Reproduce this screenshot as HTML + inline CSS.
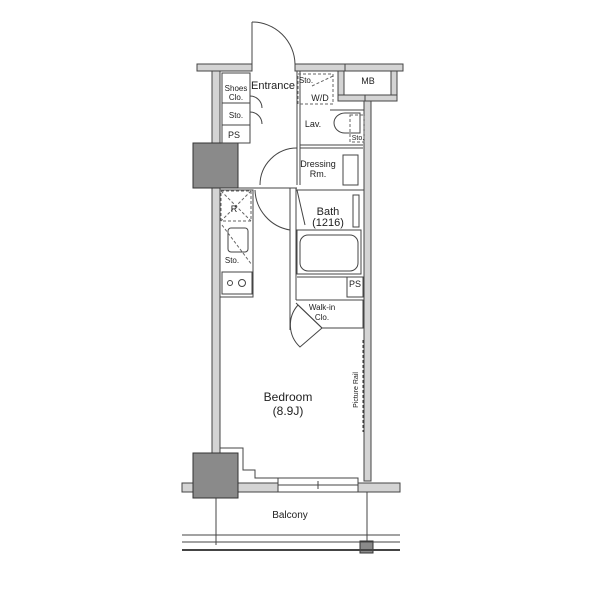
<!DOCTYPE html>
<html><head><style>body{margin:0;background:#fff}svg{display:block}text{font-family:"Liberation Sans",sans-serif;fill:#222}</style></head><body>
<svg width="600" height="600" viewBox="0 0 600 600" xmlns="http://www.w3.org/2000/svg">
<g stroke="#444" stroke-width="1" fill="#d4d4d4">
<rect x="197" y="64" width="55" height="7"/>
<rect x="295" y="64" width="50" height="7"/>
<rect x="345" y="64" width="58" height="7"/>
<rect x="338" y="71" width="6" height="30"/>
<rect x="338" y="95" width="30" height="6"/>
<rect x="391" y="71" width="6" height="30"/>
<rect x="365" y="95" width="32" height="6"/>
<rect x="212" y="71" width="8" height="72"/>
<rect x="212" y="188" width="8" height="265"/>
<rect x="364" y="101" width="7" height="380"/>
<rect x="182" y="483" width="96" height="9"/>
<rect x="358" y="483" width="42" height="9"/>
</g>
<g fill="#8a8a8a" stroke="#333">
<rect x="193" y="143" width="45" height="45"/>
<rect x="193" y="453" width="45" height="45"/>
<rect x="360" y="541" width="13" height="12"/>
</g>
<g fill="none" stroke="#444" stroke-width="1">
<line x1="252" y1="64" x2="252" y2="22"/>
<path d="M252 22 A43 43 0 0 1 295 64"/>
<rect x="222" y="73" width="28" height="70"/>
<line x1="222" y1="103" x2="250" y2="103"/><line x1="222" y1="125" x2="250" y2="125"/>
<path d="M250 96 A12 12 0 0 1 262 108"/><path d="M250 112 A12 12 0 0 1 262 124"/>
<line x1="297" y1="71" x2="297" y2="185"/><line x1="300" y1="71" x2="300" y2="185"/>
<line x1="300" y1="145" x2="363" y2="145"/><line x1="300" y1="148" x2="363" y2="148"/>
<line x1="238" y1="188" x2="297" y2="188"/><line x1="290" y1="188" x2="290" y2="330"/><line x1="296" y1="188" x2="296" y2="300"/>
<path d="M260 185 A37 37 0 0 1 297 148"/>
<path d="M255 190 A42 42 0 0 0 290 230"/>
<line x1="330" y1="110" x2="364" y2="110"/>
<rect x="343" y="155" width="15" height="30"/>
<path d="M360 113 L345 113 A11 10 0 0 0 345 133 L360 133 Z"/>
<line x1="296" y1="190" x2="364" y2="190"/>
<rect x="300" y="235" width="58" height="36" rx="8"/>
<rect x="297" y="230" width="64" height="44"/>
<rect x="353" y="195" width="6" height="32"/>
<path d="M297 190 L305 225"/>
<rect x="220" y="190" width="33" height="107"/>
<rect x="228" y="228" width="20" height="24" rx="3"/>
<rect x="222" y="272" width="30" height="22"/>
<circle cx="230" cy="283" r="2.5"/><circle cx="242" cy="283" r="3.5"/>
<rect x="347" y="277" width="16" height="20"/>
<line x1="297" y1="277" x2="363" y2="277"/>
<path d="M296 300 L363 300 L363 328 L322 328 L296 303"/>
<path d="M298 305 L322 328 L300 347 A30 30 0 0 1 298 305"/>
<path d="M220 448 L243 448 L243 470 L255 470 L255 478 L278 478"/>
<rect x="278" y="478" width="80" height="14"/>
<line x1="278" y1="485" x2="358" y2="485"/><line x1="318" y1="481" x2="318" y2="489"/>
<line x1="182" y1="535" x2="400" y2="535"/><line x1="182" y1="542" x2="400" y2="542"/>
<line x1="182" y1="550" x2="400" y2="550" stroke-width="2"/>
<line x1="216" y1="498" x2="216" y2="545"/><line x1="367" y1="492" x2="367" y2="541"/>
</g>
<g fill="none" stroke="#666" stroke-dasharray="3,2">
<rect x="298" y="74" width="35" height="30"/><line x1="312" y1="86" x2="333" y2="76"/>
<rect x="350" y="115" width="14" height="27"/>
<rect x="221" y="191" width="30" height="30"/><line x1="221" y1="191" x2="251" y2="221"/><line x1="251" y1="191" x2="221" y2="221"/>
<line x1="222" y1="225" x2="252" y2="265"/>
<line x1="363" y1="340" x2="363" y2="432" stroke="#333"/>
</g>
<g font-size="10" text-anchor="middle">
<text x="273" y="89" font-size="11">Entrance</text>
<text x="236" y="91" font-size="8">Shoes</text><text x="236" y="100" font-size="8">Clo.</text>
<text x="236" y="118" font-size="8">Sto.</text>
<text x="234" y="138" font-size="9">PS</text>
<text x="306" y="83" font-size="8">Sto.</text>
<text x="320" y="101" font-size="9">W/D</text>
<text x="313" y="127" font-size="9">Lav.</text>
<text x="358" y="140" font-size="7">Sto.</text>
<text x="368" y="84" font-size="9">MB</text>
<text x="318" y="167" font-size="9">Dressing</text><text x="318" y="177" font-size="9">Rm.</text>
<text x="234" y="212" font-size="9">R</text>
<text x="232" y="263" font-size="8">Sto.</text>
<text x="328" y="215" font-size="11">Bath</text><text x="328" y="226" font-size="11">(1216)</text>
<text x="355" y="287" font-size="9">PS</text>
<text x="322" y="310" font-size="8">Walk-in</text><text x="322" y="320" font-size="8">Clo.</text>
<text x="288" y="401" font-size="12">Bedroom</text><text x="288" y="415" font-size="12">(8.9J)</text>
<text x="290" y="518" font-size="10">Balcony</text>
<text transform="translate(358,390) rotate(-90)" font-size="7">Picture Rail</text>
</g>
</svg>
</body></html>
